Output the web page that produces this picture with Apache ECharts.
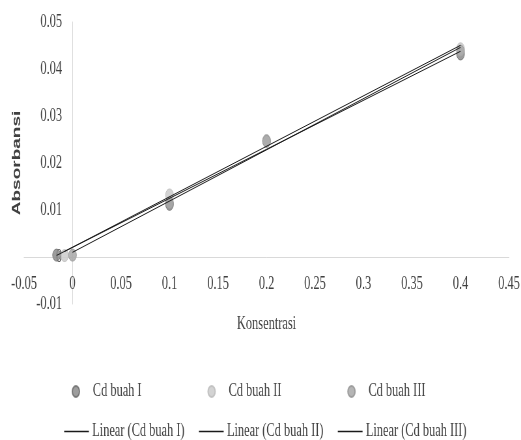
<!DOCTYPE html>
<html>
<head>
<meta charset="utf-8">
<script src="https://cdn.jsdelivr.net/npm/echarts@6/dist/echarts.min.js"></script>
<style>
html,body{margin:0;padding:0;background:#fff;overflow:hidden;width:521px;height:440px;}
#wrap{width:521px;height:440px;overflow:hidden;position:relative;}
#chart{width:800px;height:440px;transform:scaleX(0.65125);transform-origin:0 0;position:absolute;left:0;top:0;}
</style>
</head>
<body>
<div id="wrap"><div id="chart"></div></div>
<script>
// Data
const seriesNames = ['Cd buah I', 'Cd buah II', 'Cd buah III'];
const cdBuahI   = [[-0.0165, 0.0004], [0.1, 0.0112], [0.2, 0.0247], [0.4, 0.0432]];
const cdBuahII  = [[-0.0082, 0.0003], [0.1, 0.0132], [0.2, 0.0248], [0.4, 0.0443]];
const cdBuahIII = [[0.0, 0.0004],     [0.1, 0.0115], [0.2, 0.0246], [0.4, 0.0438]];
const xTicks = { min: -0.05, max: 0.45, interval: 0.05 };
const yTicks = { min: -0.01, max: 0.05, interval: 0.01 };

const allData = [cdBuahI, cdBuahII, cdBuahIII];
const markerColors = ['#8c8c8c', '#cbcbcb', '#a8a8a8'];
const markerBorders = ['#6e6e6e', '#bdbdbd', '#969696'];

function linearFit(pts) {
  const n = pts.length;
  let sx = 0, sy = 0, sxx = 0, sxy = 0;
  pts.forEach(p => { sx += p[0]; sy += p[1]; sxx += p[0]*p[0]; sxy += p[0]*p[1]; });
  const m = (n*sxy - sx*sy) / (n*sxx - sx*sx);
  const b = (sy - m*sx) / n;
  const xs = pts.map(p => p[0]);
  const x0 = Math.min(...xs), x1 = Math.max(...xs);
  return [[x0, m*x0 + b], [x1, m*x1 + b]];
}

const textColor = '#404040';
const serif = "'Liberation Serif', 'Times New Roman', serif";

// Plot geometry (pre-scale pixels)
const W = 800, H = 440;
const gridL = 36.9, gridR = 18.4, gridT = 22, gridB = 136;
const plotW = W - gridL - gridR, plotH = H - gridT - gridB;
// Offsets to put the axes through the zero values (computed from the scales)
const yAxisOffset = -plotW * (0 - xTicks.min) / (xTicks.max - xTicks.min);
const xAxisOffset = -plotH * (0 - yTicks.min) / (yTicks.max - yTicks.min);

const series = [];
allData.forEach((d, i) => {
  series.push({
    name: 'Linear (' + seriesNames[i] + ')',
    type: 'line',
    data: linearFit(d),
    symbol: 'none',
    showSymbol: false,
    lineStyle: { color: '#1a1a1a', width: 1 },
    itemStyle: { color: '#1a1a1a' },
    z: 3,
    silent: true
  });
});
allData.forEach((d, i) => {
  series.push({
    name: seriesNames[i],
    type: 'scatter',
    data: d,
    symbol: 'circle',
    symbolSize: 12,
    itemStyle: { color: markerColors[i], borderColor: markerBorders[i], borderWidth: 1, opacity: 0.85 },
    z: 2
  });
});

const chart = echarts.init(document.getElementById('chart'), null, { renderer: 'canvas' });
chart.setOption({
  animation: false,
  backgroundColor: '#ffffff',
  grid: { left: gridL, right: gridR, top: gridT, bottom: gridB, containLabel: false, outerBoundsMode: 'none' },
  xAxis: {
    type: 'value',
    position: 'bottom',
    offset: xAxisOffset,
    min: xTicks.min, max: xTicks.max, interval: xTicks.interval,
    name: 'Konsentrasi',
    nameLocation: 'middle',
    nameGap: 58,
    nameTextStyle: { fontFamily: serif, fontSize: 19, color: textColor },
    axisLine: { show: true, onZero: false, lineStyle: { color: '#d9d9d9', width: 1 } },
    axisTick: { show: false },
    splitLine: { show: false },
    axisLabel: { fontFamily: serif, fontSize: 19, color: textColor, margin: 18 }
  },
  yAxis: {
    type: 'value',
    position: 'left',
    offset: yAxisOffset,
    min: yTicks.min, max: yTicks.max, interval: yTicks.interval,
    name: 'Absorbansi',
    nameLocation: 'middle',
    nameGap: 76,
    nameRotate: 90,
    nameTextStyle: { fontFamily: "'Liberation Sans', Arial, sans-serif", fontSize: 19, fontWeight: 'bold', color: textColor },
    axisLine: { show: true, onZero: false, lineStyle: { color: '#d9d9d9', width: 1 } },
    axisTick: { show: false },
    splitLine: { show: false },
    axisLabel: { fontFamily: serif, fontSize: 19, color: textColor, margin: 16 }
  },
  legend: [
    {
      data: seriesNames.map(n => ({ name: n, icon: 'circle' })),
      left: 105, top: 377,
      orient: 'horizontal',
      itemWidth: 42, itemHeight: 11,
      itemGap: 101,
      textStyle: { fontFamily: serif, fontSize: 19, color: textColor }
    },
    {
      data: seriesNames.map(n => ({ name: 'Linear (' + n + ')', icon: 'rect', itemStyle: { color: '#1a1a1a' } })),
      left: 93.5, top: 417,
      orient: 'horizontal',
      itemWidth: 38, itemHeight: 1.3,
      itemGap: 22,
      textStyle: { fontFamily: serif, fontSize: 19, color: textColor }
    }
  ],
  series: series
});
</script>
</body>
</html>
